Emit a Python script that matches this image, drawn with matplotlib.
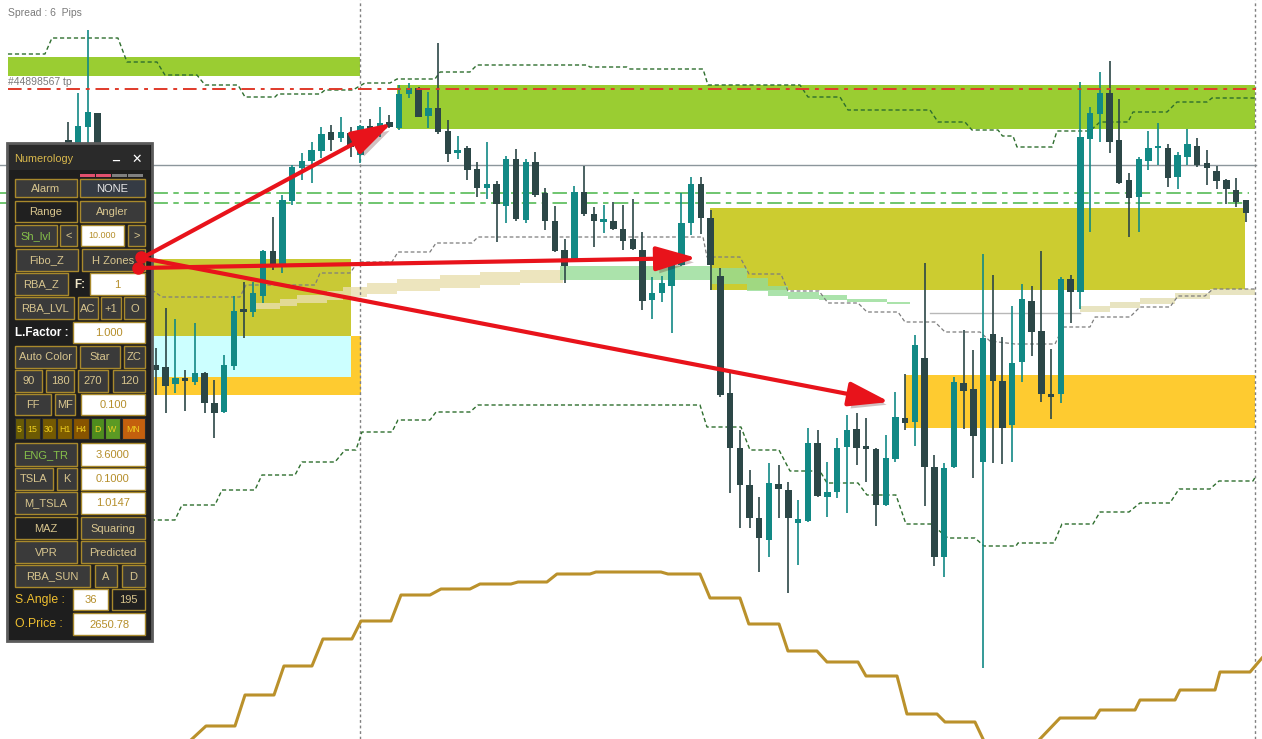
import matplotlib
matplotlib.use("Agg")
import matplotlib.pyplot as plt
import matplotlib.patheffects as pe
from matplotlib.patches import Rectangle
import numpy as np

plt.rcParams['font.family'] = ['Liberation Sans', 'DejaVu Sans']

# ---- candles (bar index, OHLC prices) ----
bar = [-9, -8, -7, -6] + list(range(113))
opens = [2706.0, 2705.0, 2707.3, 2708.7,
         2683.5, 2683.3, 2681.6, 2682.1, 2681.8, 2682.7, 2679.7, 2678.8, 2683.4, 2689.0,
         2688.8, 2690.4, 2694.9, 2693.6, 2699.9, 2703.2, 2703.9, 2704.9, 2706.8, 2706.2,
         2706.7, 2704.5, 2707.4, 2707.2, 2707.8, 2707.2, 2710.6, 2711.2, 2708.4, 2709.2,
         2706.9, 2704.7, 2705.2, 2703.1, 2701.2, 2701.6, 2699.4, 2704.1, 2698.0, 2703.8,
         2700.7, 2697.9, 2695.0, 2694.1, 2700.8, 2698.6, 2697.8, 2697.9, 2697.1, 2696.1,
         2695.0, 2690.0, 2690.7, 2691.4, 2693.5, 2697.7, 2701.6, 2698.2, 2692.4, 2680.7,
         2675.2, 2671.5, 2668.2, 2666.0, 2671.6, 2671.0, 2667.7, 2667.9, 2675.7, 2670.3,
         2670.8, 2675.3, 2677.1, 2675.3, 2675.1, 2669.5, 2674.1, 2678.2, 2677.8, 2684.2,
         2673.3, 2664.3, 2673.3, 2681.7, 2681.1, 2673.8, 2686.6, 2681.9, 2677.5, 2683.8,
         2689.9, 2686.9, 2680.5, 2680.6, 2692.1, 2690.8, 2706.1, 2708.6, 2710.7, 2706.0,
         2702.0, 2700.3, 2703.9, 2705.2, 2705.2, 2702.3, 2704.3, 2705.4, 2703.7, 2702.9,
         2702.0, 2701.0, 2700.0]
highs = [2707.8, 2710.7, 2717.0, 2708.7,
         2685.2, 2689.2, 2688.1, 2683.0, 2687.7, 2682.8, 2682.0, 2684.5, 2690.4, 2691.8,
         2691.8, 2695.0, 2698.3, 2700.5, 2703.5, 2704.7, 2705.8, 2707.3, 2707.5, 2708.3,
         2707.3, 2707.5, 2708.1, 2709.3, 2708.5, 2711.5, 2711.7, 2711.3, 2710.8, 2715.7,
         2708.0, 2706.4, 2705.4, 2703.8, 2705.8, 2701.9, 2704.4, 2705.1, 2704.1, 2704.8,
         2701.2, 2699.4, 2696.1, 2701.4, 2703.4, 2699.3, 2699.5, 2699.8, 2699.5, 2700.1,
         2696.8, 2692.3, 2692.4, 2694.7, 2700.7, 2702.3, 2702.3, 2699.0, 2693.2, 2683.0,
         2677.0, 2673.0, 2670.3, 2673.7, 2673.5, 2671.8, 2670.0, 2677.2, 2677.0, 2673.8,
         2676.2, 2678.5, 2678.7, 2678.2, 2675.2, 2676.5, 2680.8, 2682.6, 2686.5, 2693.7,
         2674.5, 2673.7, 2682.3, 2687.0, 2685.0, 2694.6, 2692.5, 2686.3, 2689.4, 2691.6,
         2691.4, 2694.9, 2685.1, 2692.3, 2692.5, 2711.8, 2709.3, 2712.8, 2713.9, 2710.1,
         2702.7, 2704.3, 2706.9, 2707.7, 2705.6, 2704.8, 2707.1, 2706.2, 2705.0, 2703.4,
         2702.1, 2702.2, 2700.0]
lows = [2704.0, 2704.0, 2705.0, 2704.5,
        2680.5, 2678.7, 2680.7, 2678.9, 2681.5, 2678.7, 2676.2, 2678.7, 2683.0, 2686.2,
        2688.3, 2689.7, 2693.0, 2692.7, 2699.5, 2702.0, 2701.7, 2704.2, 2704.9, 2705.8,
        2704.3, 2703.7, 2706.3, 2706.3, 2707.2, 2707.0, 2710.2, 2708.3, 2707.2, 2706.6,
        2703.8, 2704.1, 2702.0, 2700.3, 2700.1, 2695.8, 2697.7, 2697.9, 2697.7, 2700.3,
        2697.0, 2694.8, 2691.7, 2693.8, 2698.4, 2695.3, 2696.7, 2697.0, 2695.0, 2695.0,
        2689.0, 2688.1, 2689.8, 2686.7, 2693.4, 2696.5, 2696.6, 2691.0, 2680.3, 2670.7,
        2667.2, 2667.2, 2662.8, 2664.3, 2668.2, 2660.7, 2663.5, 2667.8, 2670.3, 2668.3,
        2670.2, 2668.7, 2673.5, 2671.8, 2667.4, 2669.4, 2673.8, 2677.0, 2675.4, 2669.4,
        2663.4, 2662.3, 2673.2, 2677.1, 2672.2, 2653.2, 2673.7, 2673.6, 2673.8, 2681.8,
        2684.4, 2679.8, 2678.1, 2679.7, 2687.7, 2689.1, 2696.8, 2705.8, 2704.7, 2701.6,
        2696.3, 2696.8, 2703.0, 2703.5, 2701.3, 2701.1, 2703.5, 2703.3, 2701.5, 2701.1,
        2699.6, 2699.3, 2697.8]
closes = [2705.0, 2707.4, 2708.8, 2705.0,
          2683.0, 2681.4, 2682.2, 2681.9, 2682.7, 2679.7, 2678.7, 2683.5, 2688.9, 2688.8,
          2690.7, 2694.9, 2693.5, 2700.0, 2703.3, 2703.9, 2705.0, 2706.6, 2706.0, 2706.8,
          2705.3, 2707.4, 2706.7, 2707.7, 2707.3, 2710.6, 2711.2, 2708.3, 2709.2, 2706.8,
          2704.6, 2705.0, 2703.0, 2701.2, 2701.6, 2699.6, 2704.1, 2698.1, 2703.8, 2700.5,
          2697.9, 2694.9, 2693.4, 2700.8, 2698.6, 2697.9, 2698.0, 2697.1, 2695.9, 2695.1,
          2689.9, 2690.7, 2691.7, 2693.7, 2697.7, 2701.6, 2698.2, 2693.5, 2680.5, 2675.2,
          2671.5, 2668.2, 2666.2, 2671.7, 2671.1, 2668.2, 2668.1, 2675.7, 2670.4, 2670.8,
          2675.2, 2677.0, 2675.2, 2675.1, 2669.5, 2674.2, 2678.3, 2677.7, 2685.5, 2673.3,
          2664.3, 2673.2, 2681.8, 2680.9, 2676.4, 2686.2, 2681.9, 2677.2, 2683.7, 2690.1,
          2686.8, 2680.6, 2680.3, 2692.1, 2690.8, 2706.3, 2708.7, 2710.7, 2705.8, 2701.7,
          2700.2, 2704.1, 2705.2, 2705.4, 2702.2, 2704.5, 2705.6, 2703.5, 2703.2, 2701.9,
          2701.1, 2699.8, 2698.7]

# ---- zones: (bar from, bar to, price low, price high, colour) ----
zone_x0 = [-15.2, 24.77, -0.41, 56.94, -0.41, -0.41, 76.98]
zone_x1 = [20.97, 112.95, 21.07, 111.9, 20.04, 20.04, 112.95]
zone_lo = [2712.4, 2707.1, 2680.5, 2691.0, 2686.4, 2682.3, 2677.2]
zone_hi = [2714.3, 2711.5, 2686.4, 2699.2, 2694.1, 2686.4, 2682.5]
zone_col = ['#9acd32', '#9acd32', '#fecb30', '#cccc30', '#c9c935', '#ccffff', '#fecb30']

# ---- horizontal levels ----
tp_level = 2711.1
gray_level = 2703.5
green_levels = [2700.7, 2699.7]
vline_bars = [21.0, 112.95]

# ---- upper envelope (dark green dashed) ----
up_x = [-15.21, -11.41, -10.69, -3.91, -2.98, 0.10, 0.92, 4.21, 5.04, 8.43, 9.15, 12.23,
        12.54, 16.86, 17.37, 20.25, 20.76, 21.48, 24.05, 24.77, 28.67, 29.2, 32.27, 32.99,
        44.30, 44.60, 48.41, 48.72, 56.22, 56.73, 66.19, 67.01, 70.30, 71.12, 79.55, 80.37,
        83.14, 83.86, 86.54, 87.0, 88.08, 88.49, 92.09, 92.60, 95.99, 97.02, 99.90, 100.41,
        103.91, 104.93, 108.02, 108.53, 112.95]
up_y = [2714.6, 2714.6, 2716.2, 2716.2, 2713.8, 2713.8, 2712.5, 2712.5, 2711.5, 2711.5, 2710.3, 2710.3,
        2710.6, 2710.6, 2711.0, 2711.0, 2711.3, 2711.7, 2711.7, 2712.1, 2712.1, 2712.8, 2712.8, 2713.5,
        2713.5, 2713.3, 2713.3, 2713.1, 2713.1, 2711.5, 2711.5, 2710.3, 2710.3, 2709.0, 2709.0, 2707.8,
        2707.8, 2707.0, 2707.0, 2706.4, 2706.4, 2705.3, 2705.3, 2706.9, 2706.9, 2707.8, 2707.8, 2708.8,
        2708.8, 2709.8, 2709.8, 2710.2, 2710.2]

# ---- lower envelope (dark green dashed) ----
lo_x = [-2.67, 1.95, 2.67, 6.06, 6.78, 10.17, 10.89, 14.29, 15.0, 18.4, 19.42, 20.55, 21.17, 24.25,
        24.87, 28.16, 28.78, 32.27, 33.09, 55.91, 56.63, 60.12, 61.05, 64.03, 65.16, 68.24, 68.96,
        72.15, 73.07, 76.05, 77.08, 79.65, 81.40, 84.17, 85.10, 88.39, 88.59, 92.29, 93.11, 96.30,
        97.02, 100.0, 101.13, 104.21, 105.14, 108.32, 109.25, 112.74, 113.05]
lo_y = [2668.0, 2668.0, 2669.5, 2669.5, 2671.0, 2671.0, 2672.5, 2672.5, 2673.8, 2673.8, 2675.0, 2675.0,
        2676.8, 2676.8, 2678.0, 2678.0, 2678.8, 2678.8, 2679.5, 2679.5, 2677.3, 2677.3, 2675.0, 2675.0,
        2672.9, 2672.9, 2671.7, 2671.7, 2670.5, 2670.5, 2667.6, 2667.6, 2666.2, 2666.2, 2665.4, 2665.4,
        2665.7, 2665.7, 2667.6, 2667.6, 2668.8, 2668.8, 2669.7, 2669.7, 2671.1, 2671.1, 2671.9, 2671.9,
        2672.4]

# ---- middle line (gray dashed) ----
mid_x = [-0.41, 0.62, 8.63, 9.25, 16.34, 16.86, 19.94, 20.76, 24.25, 24.87, 28.16, 28.78, 32.48,
         33.09, 56.22, 56.63, 60.02, 60.95, 64.23, 64.95, 68.14, 69.06, 72.15, 73.07, 76.26, 76.98,
         80.06, 81.09, 84.69, 85.71, 88.28, 92.40, 93.22, 95.99, 96.51, 100.10, 101.13, 104.21,
         105.04, 107.81, 108.63, 112.95]
mid_y = [2691.0, 2690.3, 2690.3, 2691.5, 2691.5, 2692.7, 2692.7, 2693.8, 2693.8, 2694.8, 2694.8,
         2695.7, 2695.7, 2696.3, 2696.3, 2694.3, 2694.3, 2692.6, 2692.6, 2690.9, 2690.9, 2689.7,
         2689.7, 2688.8, 2688.8, 2687.8, 2687.8, 2686.8, 2686.8, 2685.9, 2685.6, 2685.6, 2687.3,
         2687.3, 2688.3, 2688.3, 2689.3, 2689.3, 2690.4, 2690.4, 2691.1, 2691.1]

# ---- gold step curve ----
sun_x = [3.70, 5.14, 8.12, 9.15, 12.13, 13.15, 16.03, 17.16, 20.14, 21.07, 24.15, 25.18, 28.16,
         29.29, 32.27, 33.30, 36.48, 37.21, 40.18, 41.21, 44.60, 45.22, 51.90, 52.62, 55.91, 56.94,
         60.02, 60.93, 64.03, 64.95, 67.93, 68.96, 72.15, 72.97, 76.16, 77.18, 80.27, 81.09, 84.17,
         85.0]
sun_y = [2646.1, 2647.4, 2647.4, 2650.5, 2650.5, 2653.4, 2653.4, 2656.1, 2656.1, 2657.9, 2657.9,
         2660.5, 2660.5, 2661.1, 2661.1, 2661.6, 2661.6, 2661.8, 2661.8, 2662.6, 2662.6, 2662.8,
         2662.8, 2662.6, 2662.6, 2660.2, 2660.2, 2657.6, 2657.6, 2654.9, 2654.9, 2653.8, 2653.8,
         2652.4, 2652.4, 2648.6, 2648.6, 2647.8, 2647.8, 2646.1]
sun2_x = [90.85, 92.91, 96.51, 97.02, 100.62, 101.13, 104.73, 105.24, 108.84, 109.35, 112.44, 113.67]
sun2_y = [2646.1, 2648.2, 2648.2, 2649.0, 2649.0, 2650.0, 2650.0, 2651.0, 2651.0, 2652.8, 2652.8, 2654.2]

# ---- faded step bands ----
tan_x = [9.97, 12.74, 14.49, 17.57, 19.22, 21.69, 24.77, 29.19, 33.30, 37.41, 41.83]
tan_hi = [2689.7, 2690.1, 2690.5, 2690.9, 2691.3, 2691.7, 2692.1, 2692.5, 2692.8, 2693.0, 2693.2]
tan_lo = [2689.1, 2689.4, 2689.7, 2690.0, 2690.3, 2690.6, 2690.9, 2691.2, 2691.5, 2691.7, 2691.9]
grn_x = [41.52, 57.04, 60.74, 62.90, 64.95, 68.14, 71.02, 75.13, 77.49]
grn_hi = [2693.4, 2693.2, 2692.2, 2691.4, 2690.8, 2690.5, 2690.1, 2689.8, 2689.8]
grn_lo = [2692.0, 2691.6, 2690.9, 2690.4, 2690.1, 2690.0, 2689.8, 2689.6, 2689.6]
tan2_x = [94.96, 98.05, 101.13, 104.73, 108.32, 112.95]
tan2_hi = [2689.4, 2689.8, 2690.2, 2690.7, 2691.1, 2691.1]
tan2_lo = [2688.8, 2689.2, 2689.6, 2690.1, 2690.5, 2690.5]

# arrow targets (bar, price)
arrow_tx = [24.25, 55.6, 75.4]
arrow_ty = [2707.7, 2694.2, 2679.8]

TEAL = '#128985'
DARK = '#2c4747'

fig = plt.figure(figsize=(12.62, 7.39), dpi=100)
ax = fig.add_axes([0, 0, 1, 1])
ax.set_xlim(-16.03, 113.67)
ax.set_ylim(2646.1, 2720.0)
ax.axis('off')

for x0, x1, lo, hi, c in zip(zone_x0, zone_x1, zone_lo, zone_hi, zone_col):
    ax.add_patch(Rectangle((x0, lo), x1 - x0, hi - lo, facecolor=c, edgecolor='none', zorder=1))

ax.fill_between(tan_x, tan_lo, tan_hi, step='post', color='#e9dfae', alpha=0.8, lw=0, zorder=2)
ax.fill_between(grn_x, grn_lo, grn_hi, step='post', color='#96dc96', alpha=0.8, lw=0, zorder=2)
ax.fill_between(tan2_x, tan2_lo, tan2_hi, step='post', color='#e6e1bb', alpha=0.9, lw=0, zorder=2)

ax.axhline(gray_level, xmin=0.0, xmax=0.995, color='#8c969c', lw=1, zorder=2)
for g in green_levels:
    ax.axhline(g, xmin=0.0, xmax=0.99, color='#63c063', lw=1.3, ls=(0, (8, 3, 3, 3)), zorder=2)
for v in vline_bars:
    ax.axvline(v, color='#808080', lw=1, ls=(0, (2, 2)), zorder=2)
ax.plot([79.55, 94.96], [2688.7, 2688.7], color='#b8b8b8', lw=1, zorder=2)

ax.plot(up_x, up_y, color='#2e6e2e', lw=1, ls=(0, (3, 2)), zorder=3)
ax.plot(lo_x, lo_y, color='#2e6e2e', lw=1, ls=(0, (3, 2)), zorder=3)
ax.plot(mid_x, mid_y, color='#7d7d7d', lw=0.9, ls=(0, (3, 2)), zorder=3)
ax.plot(sun_x, sun_y, color='#ba912b', lw=2.2, zorder=3)
ax.plot(sun2_x, sun2_y, color='#ba912b', lw=2.2, zorder=3)

# candles
o = np.array(opens); h = np.array(highs); l = np.array(lows); c = np.array(closes)
cols = np.where(c >= o, TEAL, DARK)
ax.vlines(bar, l, h, colors=cols, lw=1.2, zorder=5)
ax.bar(bar, np.maximum(np.abs(c - o), 0.25), bottom=np.minimum(o, c), width=0.66,
       color=cols, zorder=6)

ax.axhline(tp_level, xmin=0.006, xmax=0.995, color='#e03a2a', lw=1.4,
           ls=(0, (7, 3, 2, 3)), zorder=7)

# ---- UI overlay in screen pixels ----
ui = fig.add_axes([0, 0, 1, 1])
ui.set_xlim(0, 1262)
ui.set_ylim(739, 0)
ui.axis('off')
ui.set_zorder(5)
ui.patch.set_visible(False)

ui.text(8, 13, 'Spread : 6  Pips', fontsize=7.5, color='#7a7a7a', va='center')
ui.text(8, 82, '#44898567 tp', fontsize=7.5, color='#7a7a7a', va='center')

ui.add_patch(Rectangle((7, 143), 145, 498, facecolor='#1e1e1e', edgecolor='#5c5c5c', lw=2))
ui.add_patch(Rectangle((9, 145), 141, 25, facecolor='#2a2a2a', edgecolor='none'))
ui.text(14, 159, 'Numerology', fontsize=7.8, color='#d9b84c', va='center')
ui.text(112, 156, '_', fontsize=9, color='white', va='center', fontweight='bold')
ui.text(131, 159, '\u2715', fontsize=9, color='white', va='center', fontweight='bold',
        family=['DejaVu Sans'])
for bx, bc in [(80, '#e0506e'), (96, '#e0506e'), (112, '#808080'), (128, '#808080')]:
    ui.add_patch(Rectangle((bx, 174), 15, 3, facecolor=bc, edgecolor='none'))

styles = {
    'btn': ('#3a3a3a', '#a8892c', '#d8c58e'),
    'dark': ('#202020', '#a8892c', '#d8c58e'),
    'none': ('#353b44', '#a8892c', '#e8e8e8'),
    'green': ('#3a3a3a', '#a8892c', '#86c04a'),
    'input': ('#ffffff', '#a8892c', '#b58e2a'),
}
rows = [
    (179, 197, [('Alarm', 15, 77, 'btn'), ('NONE', 80, 145, 'none')]),
    (201, 222, [('Range', 15, 77, 'dark'), ('Angler', 80, 145, 'btn')]),
    (225, 246, [('Sh_lvl', 15, 57, 'green'), ('<', 60, 77, 'btn'), ('10.000', 81, 124, 'input'),
                ('>', 128, 145, 'btn')]),
    (249, 271, [('Fibo_Z', 16, 78, 'btn'), ('H Zones', 82, 145, 'btn')]),
    (273, 295, [('RBA_Z', 15, 68, 'btn'), ('1', 90, 145, 'input')]),
    (297, 319, [('RBA_LVL', 15, 74, 'btn'), ('AC', 78, 98, 'btn'), ('+1', 101, 121, 'btn'),
                ('O', 124, 145, 'btn')]),
    (322, 343, [('1.000', 73, 145, 'input')]),
    (346, 368, [('Auto Color', 15, 76, 'btn'), ('Star', 80, 120, 'btn'), ('ZC', 124, 145, 'btn')]),
    (370, 392, [('90', 15, 42, 'btn'), ('180', 46, 74, 'btn'), ('270', 78, 108, 'btn'),
                ('120', 113, 145, 'btn')]),
    (394, 415, [('FF', 15, 51, 'btn'), ('MF', 55, 75, 'btn'), ('0.100', 81, 145, 'input')]),
    (443, 466, [('ENG_TR', 15, 77, 'green'), ('3.6000', 81, 145, 'input')]),
    (468, 490, [('TSLA', 15, 53, 'btn'), ('K', 57, 77, 'btn'), ('0.1000', 81, 145, 'input')]),
    (492, 514, [('M_TSLA', 15, 77, 'btn'), ('1.0147', 81, 145, 'input')]),
    (517, 539, [('MAZ', 15, 77, 'dark'), ('Squaring', 81, 145, 'btn')]),
    (541, 563, [('VPR', 15, 77, 'btn'), ('Predicted', 81, 145, 'btn')]),
    (565, 587, [('RBA_SUN', 15, 90, 'btn'), ('A', 95, 117, 'btn'), ('D', 122, 145, 'btn')]),
    (589, 610, [('36', 73, 108, 'input'), ('195', 112, 145, 'dark')]),
    (613, 635, [('2650.78', 73, 145, 'input')]),
]
for y0, y1, items in rows:
    for label, x0, x1, st in items:
        fc, ec, tc = styles[st]
        ui.add_patch(Rectangle((x0, y0), x1 - x0, y1 - y0, facecolor=fc, edgecolor=ec, lw=1))
        fs = 6.5 if label == '10.000' else 8
        ui.text((x0 + x1) / 2, (y0 + y1) / 2 + 0.5, label, fontsize=fs, color=tc,
                ha='center', va='center')

ui.text(74, 285, 'F:', fontsize=8.5, color='#f0e6c8', va='center', fontweight='bold')
ui.text(15, 333, 'L.Factor :', fontsize=8.5, color='white', va='center', fontweight='bold')
ui.text(15, 600, 'S.Angle :', fontsize=8.8, color='#f0c030', va='center')
ui.text(15, 624, 'O.Price :', fontsize=8.8, color='#f0c030', va='center')

tf = [('5', 15, 24, '#675a05'), ('15', 25, 40, '#6c5a04'), ('30', 42, 56, '#755a02'),
      ('H1', 57, 72, '#7e5c00'), ('H4', 73, 89, '#875400'), ('D', 91, 104, '#4e8c1e'),
      ('W', 105, 120, '#5b9a24'), ('MN', 122, 145, '#c4600e')]
for label, x0, x1, fc in tf:
    ui.add_patch(Rectangle((x0, 418), x1 - x0, 21, facecolor=fc, edgecolor='#2a2a2a', lw=0.8))
    ui.text((x0 + x1) / 2, 429, label, fontsize=6.3, color='#f0d020', ha='center', va='center')

# red arrows from the H Zones button
starts = [(142, 258), (139, 268), (142, 258)]
for (sx, sy), tx, ty in zip(starts, arrow_tx, arrow_ty):
    ui.annotate('', xy=(tx, ty), xycoords=ax.transData, xytext=(sx, sy), textcoords='data',
                arrowprops=dict(arrowstyle='-|>,head_length=2.5,head_width=0.75',
                                color='#e8131b', lw=3, mutation_scale=10, shrinkA=0, shrinkB=0,
                                path_effects=[pe.SimplePatchShadow(offset=(3, -3), alpha=0.25),
                                              pe.Normal()]))
ui.plot([141, 138], [257, 268], 'o', color='#e8131b', ms=8)

fig.savefig('out.png', dpi=100)
